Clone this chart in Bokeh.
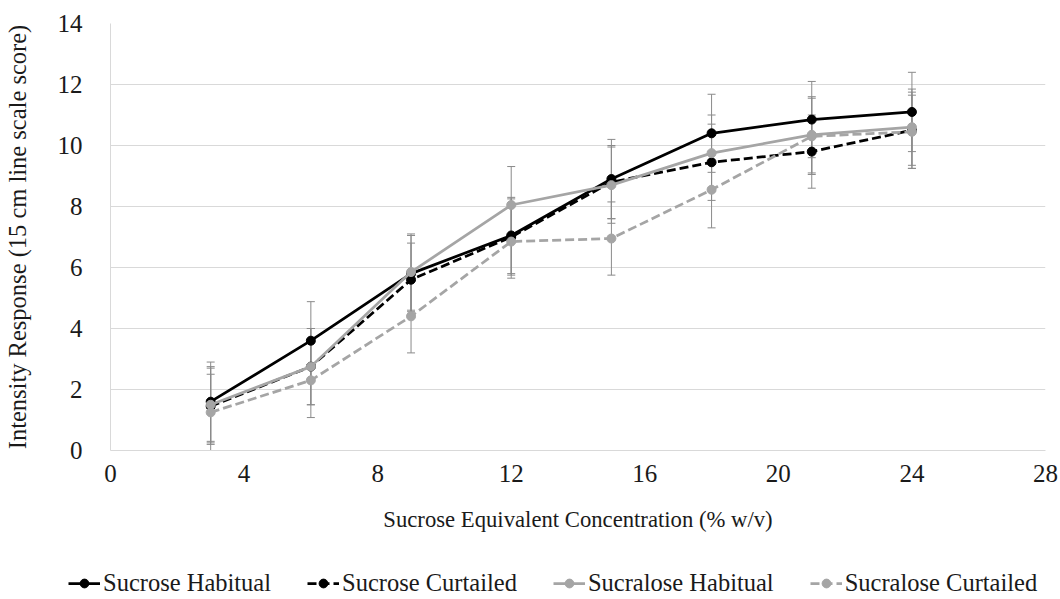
from bokeh.plotting import figure
from bokeh.layouts import column, row
from bokeh.models import (ColumnDataSource, Whisker, TeeHead, Legend, LegendItem,
                          FixedTicker, Range1d)
from bokeh.embed import file_html
from bokeh.resources import INLINE

conc = [3, 6, 9, 12, 15, 18, 21, 24]

sucrose_habitual = [1.60, 3.60, 5.80, 7.05, 8.90, 10.40, 10.85, 11.10]
sucrose_habitual_err = [1.30, 1.28, 1.25, 1.25, 1.30, 1.28, 1.25, 1.30]

sucrose_curtailed = [1.45, 2.75, 5.60, 7.00, 8.80, 9.45, 9.80, 10.50]
sucrose_curtailed_err = [1.25, 1.25, 1.20, 1.25, 1.20, 1.25, 1.20, 1.25]

sucralose_habitual = [1.50, 2.75, 5.85, 8.05, 8.70, 9.75, 10.35, 10.60]
sucralose_habitual_err = [1.25, 1.25, 1.25, 1.26, 1.25, 1.25, 1.25, 1.25]

sucralose_curtailed = [1.25, 2.30, 4.40, 6.85, 6.95, 8.55, 10.30, 10.45]
sucralose_curtailed_err = [1.25, 1.22, 1.20, 1.20, 1.20, 1.25, 1.25, 1.20]

series_names = ["Sucrose Habitual", "Sucrose Curtailed",
                "Sucralose Habitual", "Sucralose Curtailed"]
x_ticks = [0, 4, 8, 12, 16, 20, 24, 28]
y_ticks = [0, 2, 4, 6, 8, 10, 12, 14]

FONT = "Liberation Serif"
TEXT = "#1a1a1a"
BLACK = "#000000"
GREY = "#a5a5a5"
ERR = "#8a8a8a"
GRID = "#d9d9d9"

p = figure(width=1060, height=555, output_backend="svg", toolbar_location=None,
           x_range=Range1d(0, 28), y_range=Range1d(0, 14),
           min_border_left=107, min_border_right=15, min_border_top=23,
           min_border_bottom=105)
p.outline_line_color = None
p.background_fill_color = "white"
p.border_fill_color = "white"

p.xgrid.grid_line_color = None
p.ygrid.grid_line_color = GRID
p.ygrid.grid_line_width = 1
p.ygrid.ticker = FixedTicker(ticks=y_ticks)

p.xaxis.ticker = FixedTicker(ticks=x_ticks)
p.yaxis.ticker = FixedTicker(ticks=y_ticks)
for ax in (p.xaxis[0], p.yaxis[0]):
    ax.axis_line_color = GRID
    ax.axis_line_width = 1
    ax.major_tick_line_color = None
    ax.minor_tick_line_color = None
    ax.major_label_text_font = FONT
    ax.major_label_text_font_size = "25px"
    ax.major_label_text_color = TEXT
    ax.axis_label_text_font = FONT
    ax.axis_label_text_font_style = "normal"
    ax.axis_label_text_color = TEXT

p.yaxis.axis_label = "Intensity Response (15 cm line scale score)"
p.yaxis.axis_label_text_font_size = "24.5px"
p.yaxis.major_label_standoff = 22
p.yaxis.axis_label_standoff = 24

p.xaxis.axis_label = "Sucrose Equivalent Concentration (% w/v)"
p.xaxis.axis_label_text_font_size = "22.7px"
p.xaxis.major_label_standoff = 8
p.xaxis.axis_label_standoff = 22

specs = [
    (sucrose_habitual, sucrose_habitual_err, BLACK, "solid"),
    (sucrose_curtailed, sucrose_curtailed_err, BLACK, "9 4"),
    (sucralose_habitual, sucralose_habitual_err, GREY, "solid"),
    (sucralose_curtailed, sucralose_curtailed_err, GREY, "9 4"),
]

# error bars
for vals, errs, color, dash in specs:
    src = ColumnDataSource(dict(x=conc,
                                upper=[v + e for v, e in zip(vals, errs)],
                                lower=[v - e for v, e in zip(vals, errs)]))
    w = Whisker(source=src, base="x", upper="upper", lower="lower",
                line_color=ERR, line_width=1,
                upper_head=TeeHead(size=8, line_color=ERR, line_width=1),
                lower_head=TeeHead(size=8, line_color=ERR, line_width=1))
    p.add_layout(w)

for vals, errs, color, dash in specs:
    src = ColumnDataSource(dict(x=conc, y=vals))
    p.line("x", "y", source=src, line_color=color, line_width=2.75,
           line_dash=dash)
    p.scatter("x", "y", source=src, size=9, fill_color=color,
              line_color=color, marker="circle")

# legend strip below the chart (its ranges keep the series out of view,
# so only the legend shows)
lf = figure(width=1060, height=44, output_backend="svg", toolbar_location=None,
            x_range=Range1d(0, 28), y_range=Range1d(100, 101),
            x_axis_type=None, y_axis_type=None,
            min_border_left=0, min_border_right=0, min_border_top=0,
            min_border_bottom=0)
lf.outline_line_color = None
lf.xgrid.grid_line_color = None
lf.ygrid.grid_line_color = None
lf.border_fill_color = "white"
lf.background_fill_color = "white"

items = []
for name, (vals, errs, color, dash) in zip(series_names, specs):
    src = ColumnDataSource(dict(x=conc, y=vals))
    ln = lf.line("x", "y", source=src, line_color=color, line_width=2.75,
                 line_dash=dash)
    sc = lf.scatter("x", "y", source=src, size=8, fill_color=color,
                    line_color=color, marker="circle")
    items.append(LegendItem(label=name, renderers=[ln, sc]))

legend = Legend(items=items, orientation="horizontal", location=(68, 2),
                label_text_font=FONT, label_text_font_size="24.5px",
                label_text_color=TEXT, glyph_width=32, glyph_height=22,
                spacing=36, label_standoff=3, border_line_color=None,
                background_fill_alpha=0, margin=0, padding=0)
lf.add_layout(legend, "center")

layout = column(p, row(lf, spacing=0), spacing=0)
open("out.html", "w").write(file_html(layout, INLINE))
